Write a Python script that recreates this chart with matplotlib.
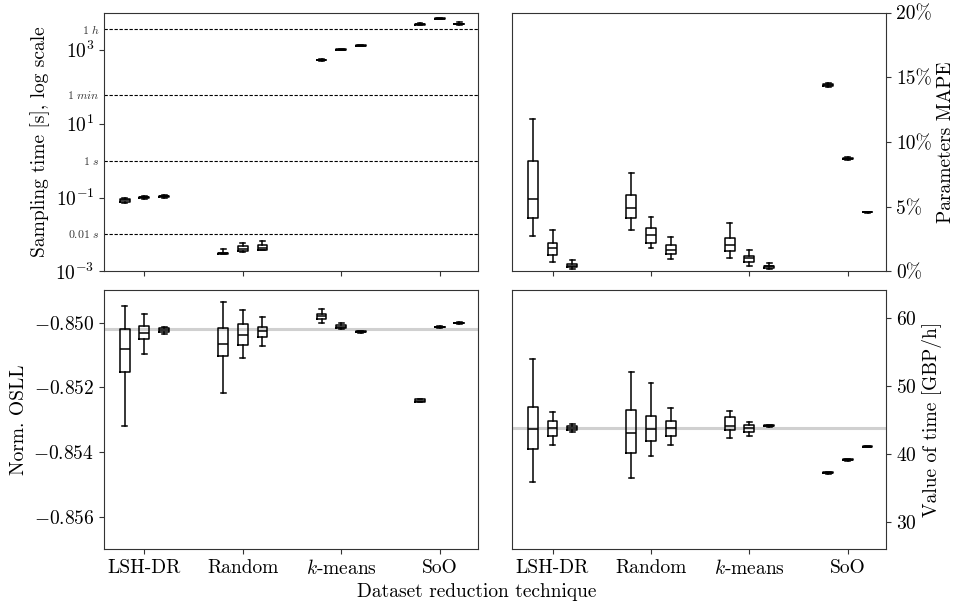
import numpy as np
import matplotlib
matplotlib.use("Agg")
import matplotlib.pyplot as plt
from matplotlib.ticker import FixedLocator, NullLocator, PercentFormatter

plt.rcParams['font.family'] = 'serif'
plt.rcParams['font.serif'] = ['cmr10']
plt.rcParams['mathtext.fontset'] = 'cm'
plt.rcParams['axes.formatter.use_mathtext'] = True
plt.rcParams['axes.unicode_minus'] = True
plt.rcParams['axes.edgecolor'] = '#333333'

techniques = ['LSH-DR', 'Random', '$k$-means', 'SoO']

# 12 boxes per panel: 4 techniques x 3 settings
# sampling time [s]
time_lo  = [0.070, 0.090, 0.098, 0.0030, 0.0034, 0.0038, 505, 965, 1235, 4650, 6600, 4800]
time_q1  = [0.077, 0.096, 0.103, 0.0030, 0.0035, 0.0038, 512, 980, 1255, 4800, 6750, 4880]
time_med = [0.084, 0.101, 0.108, 0.0031, 0.0040, 0.0044, 525, 1000, 1280, 4950, 6900, 5000]
time_q3  = [0.090, 0.106, 0.113, 0.0032, 0.0048, 0.0051, 538, 1020, 1305, 5100, 7050, 5100]
time_hi  = [0.095, 0.110, 0.118, 0.0041, 0.0058, 0.0068, 548, 1035, 1320, 5250, 7200, 5600]

# parameters MAPE [%]
mape_lo  = [2.76, 0.75, 0.21, 3.23, 1.78, 0.95, 1.03, 0.46, 0.18, 14.25, 8.62, 4.55]
mape_q1  = [4.15, 1.26, 0.31, 4.13, 2.22, 1.37, 1.55, 0.70, 0.28, 14.35, 8.67, 4.57]
mape_med = [5.60, 1.81, 0.46, 4.90, 2.84, 1.63, 2.06, 1.03, 0.39, 14.43, 8.72, 4.59]
mape_q3  = [8.54, 2.22, 0.59, 5.91, 3.33, 2.01, 2.58, 1.21, 0.46, 14.51, 8.77, 4.61]
mape_hi  = [11.8, 3.23, 0.88, 7.59, 4.23, 2.63, 3.77, 1.63, 0.62, 14.60, 8.82, 4.63]

# normalised OSLL
osll_lo  = [-0.85321, -0.85098, -0.85034, -0.85218, -0.85109, -0.85073, -0.85002, -0.85021, -0.85031, -0.85246, -0.85015, -0.85003]
osll_q1  = [-0.85152, -0.85052, -0.85029, -0.85104, -0.85070, -0.85043, -0.84988, -0.85018, -0.85030, -0.85245, -0.85014, -0.85002]
osll_med = [-0.85080, -0.85031, -0.85024, -0.85067, -0.85039, -0.85025, -0.84979, -0.85012, -0.85028, -0.85241, -0.85013, -0.85001]
osll_q3  = [-0.85021, -0.85010, -0.85018, -0.85018, -0.85003, -0.85013, -0.84972, -0.85008, -0.85026, -0.85237, -0.85012, -0.85000]
osll_hi  = [-0.84948, -0.84972, -0.85013, -0.84937, -0.84961, -0.84982, -0.84959, -0.85001, -0.85025, -0.85236, -0.85011, -0.84999]
osll_ref = -0.85020

# value of time [GBP/h]
vot_lo  = [35.87, 41.29, 43.15, 36.5, 39.68, 41.34, 42.36, 42.56, 43.95, 37.05, 39.00, 40.95]
vot_q1  = [40.70, 42.56, 43.44, 40.12, 41.83, 42.56, 43.44, 43.24, 44.00, 37.10, 39.06, 41.00]
vot_med = [43.68, 43.73, 43.73, 43.0, 43.68, 43.83, 44.12, 43.73, 44.12, 37.19, 39.14, 41.05]
vot_q3  = [46.86, 44.81, 44.12, 46.37, 45.54, 44.81, 45.39, 44.17, 44.22, 37.28, 39.22, 41.10]
vot_hi  = [53.89, 46.08, 44.32, 51.94, 50.33, 46.66, 46.27, 44.61, 44.28, 37.33, 39.28, 41.15]
vot_ref = 43.73

time_marks = [0.01, 1, 60, 3600]
time_mark_labels = [r'$0.01\ s$', r'$1\ s$', r'$1\ min$', r'$1\ h$']

offsets = [-0.2, 0.0, 0.2]
positions = [i + o for i in range(len(techniques)) for o in offsets]


def make_stats(lo, q1, med, q3, hi):
    return [dict(whislo=a, q1=b, med=c, q3=d, whishi=e, fliers=[])
            for a, b, c, d, e in zip(lo, q1, med, q3, hi)]


def draw(ax, stats):
    ax.bxp(stats, positions=positions, widths=0.1, showfliers=False,
           boxprops=dict(color='black', linewidth=1.1),
           whiskerprops=dict(color='black', linewidth=1.1),
           capprops=dict(color='black', linewidth=1.1),
           medianprops=dict(color='black', linewidth=1.1),
           manage_ticks=False, zorder=3)


fig, axes = plt.subplots(2, 2, figsize=(9.54, 6.08), dpi=100, sharex=True)
fig.subplots_adjust(left=0.109, right=0.929, top=0.979, bottom=0.097,
                    hspace=0.073, wspace=0.091)
ax1, ax2 = axes[0]
ax3, ax4 = axes[1]

# sampling time
draw(ax1, make_stats(time_lo, time_q1, time_med, time_q3, time_hi))
ax1.set_yscale('log')
ax1.set_ylim(1e-3, 1e4)
ax1.yaxis.set_major_locator(FixedLocator([1e-3, 1e-1, 1e1, 1e3]))
ax1.yaxis.set_minor_locator(NullLocator())
for v, lab in zip(time_marks, time_mark_labels):
    ax1.axhline(v, color='black', linestyle='--', linewidth=0.8, dashes=(3, 1.5), zorder=1)
    ax1.text(-0.012, v, lab, transform=ax1.get_yaxis_transform(), ha='right',
             va='center', fontsize=8.5, color='#333333')
ax1.set_ylabel('Sampling time [s], log scale', fontsize=14)

# MAPE
draw(ax2, make_stats(mape_lo, mape_q1, mape_med, mape_q3, mape_hi))
ax2.set_ylim(0, 20)
ax2.set_yticks([0, 5, 10, 15, 20])
ax2.yaxis.set_major_formatter(PercentFormatter(xmax=100, decimals=0))
ax2.yaxis.tick_right()
ax2.yaxis.set_label_position('right')
ax2.set_ylabel('Parameters MAPE', fontsize=14)

# OSLL
ax3.axhline(osll_ref, color='#d0d0d0', linewidth=2.2, zorder=1)
draw(ax3, make_stats(osll_lo, osll_q1, osll_med, osll_q3, osll_hi))
ax3.set_ylim(-0.857, -0.849)
ax3.set_yticks([-0.856, -0.854, -0.852, -0.850])
ax3.yaxis.set_major_formatter(plt.FuncFormatter(lambda v, p: r'$%.3f$' % v))
ax3.set_ylabel('Norm. OSLL', fontsize=14)

# value of time
ax4.axhline(vot_ref, color='#d0d0d0', linewidth=2.2, zorder=1)
draw(ax4, make_stats(vot_lo, vot_q1, vot_med, vot_q3, vot_hi))
ax4.set_ylim(26, 64)
ax4.set_yticks([30, 40, 50, 60])
ax4.yaxis.tick_right()
ax4.yaxis.set_label_position('right')
ax4.set_ylabel('Value of time [GBP/h]', fontsize=14)

for ax in axes.flat:
    ax.set_xlim(-0.41, 3.39)
    ax.set_xticks(range(len(techniques)))
    ax.set_xticklabels(techniques)
    ax.tick_params(labelsize=14, color='#333333')

fig.text(0.5, 0.012, 'Dataset reduction technique', ha='center', va='bottom', fontsize=14)

fig.savefig('out.png', dpi=100)
